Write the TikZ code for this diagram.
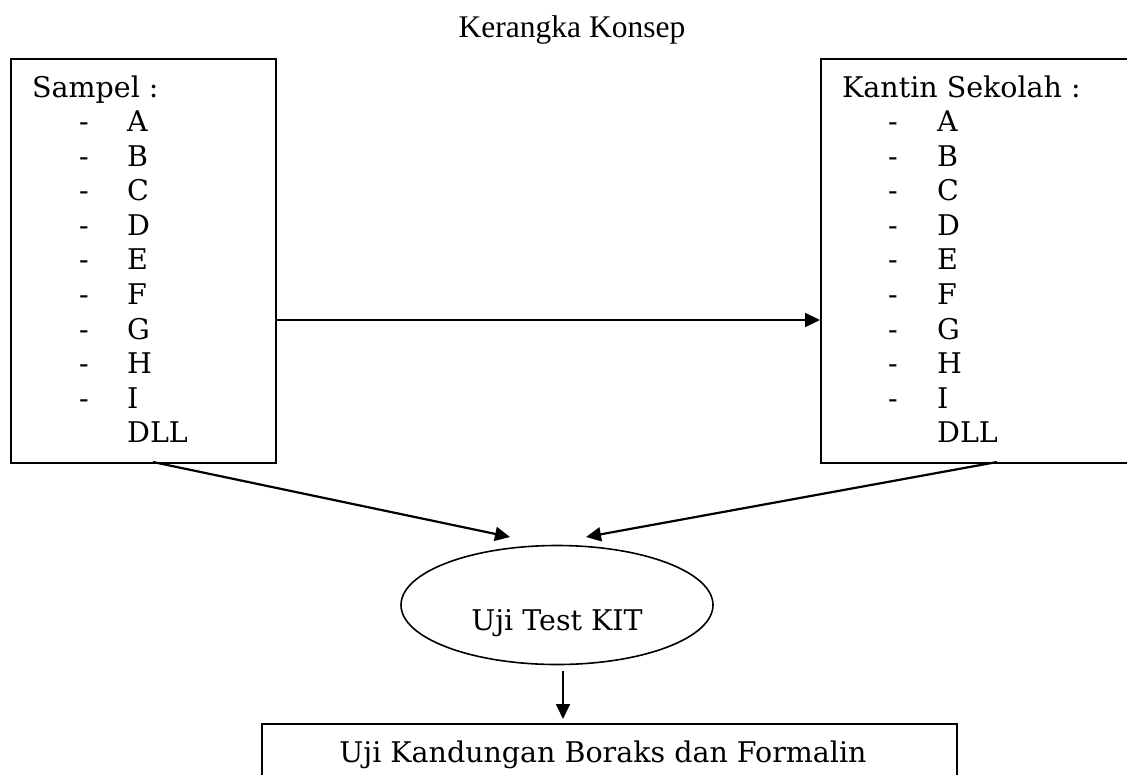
\documentclass[tikz,border=0pt]{standalone}
\usepackage{fontspec}
\setmainfont{DejaVu Serif}
\newfontfamily\titlefont{Liberation Serif}
\usetikzlibrary{arrows.meta,shapes.geometric}
\begin{document}
\begin{tikzpicture}[x=1pt,y=-1pt,
  box/.style={draw,line width=2.1pt,rectangle,inner sep=0pt},
  txt/.style={inner sep=0pt,font=\fontsize{28.5}{31}\selectfont},
  lbl/.style={txt,anchor=base west},
  arr/.style={line width=2.2pt,-{Triangle[length=15pt,width=14pt]}},
  arrthin/.style={line width=1.7pt,-{Triangle[length=15pt,width=14pt]}},
  oval/.style={draw,ellipse,line width=1.6pt,minimum width=312pt,minimum height=119pt,inner sep=0pt}]
\useasboundingbox (0,0) rectangle (1127,774);
\clip (0,0) rectangle (1127,774);
% title
\node[inner sep=0pt,anchor=base,font=\titlefont\fontsize{31.5}{34}\selectfont] (title) at (572,37) {Kerangka Konsep};
% boxes
\node[box,anchor=north west,minimum width=265pt,minimum height=404pt] (L) at (10,58) {};
\node[box,anchor=north west,minimum width=330pt,minimum height=404pt] (R) at (820,58) {};
\node[oval] (E) at (557,605) {};
\node[box,anchor=north west,minimum width=695pt,minimum height=90pt] (B) at (261,723) {};
% texts
\node[lbl] (lhead) at (32,97) {Sampel :};
\node[lbl] (rhead) at (842,97) {Kantin Sekolah :};
\foreach \t [count=\i from 0] in {A,B,C,D,E,F,G,H,I}{
  \node[lbl] (ld\i) at (79,131.5+34.6*\i) {-};
  \node[lbl] (ll\i) at (127,131.5+34.6*\i) {\t};
  \node[lbl] (rd\i) at (888,131.5+34.6*\i) {-};
  \node[lbl] (rl\i) at (937,131.5+34.6*\i) {\t};
}
\node[lbl] (ldll) at (127,442.9) {DLL};
\node[lbl] (rdll) at (937,442.9) {DLL};
\node[txt,anchor=base] (etext) at (557,630) {Uji Test KIT};
\node[txt,anchor=base] (btext) at (603,762) {Uji Kandungan Boraks dan Formalin};
% connector ends
\coordinate (lout) at (153,462);
\coordinate (rout) at (997,462);
\coordinate (ltip) at (510,537);
\coordinate (rtip) at (586,537);
\coordinate (dstart) at (563,671);
\coordinate (dtip) at (563,719);
% connectors
\draw[arr] (L.east |- 0,320) -- (R.west |- 0,320);
\draw[arr] (lout) -- (ltip);
\draw[arr] (rout) -- (rtip);
\draw[arrthin] (dstart) -- (dtip);
\end{tikzpicture}
\end{document}
